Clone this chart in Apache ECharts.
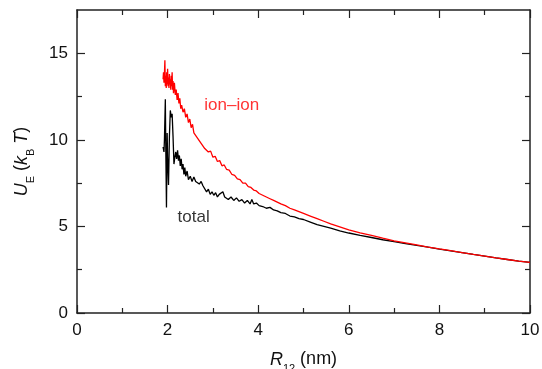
<!DOCTYPE html>
<html><head><meta charset="utf-8">
<script src="https://cdn.jsdelivr.net/npm/echarts@6/dist/echarts.min.js"></script>
<style>html,body{margin:0;padding:0;background:#fff}#c{width:542px;height:369px}</style>
</head><body><div id="c"></div>
<script>
// ion–ion interaction energy (red)
const ionX = [1.90,1.91,1.92,1.93,1.94,1.95,1.96,1.97,1.98,1.99,2.00,2.01,2.02,2.03,2.04,2.05,2.06,2.07,2.08,2.09,2.10,2.11,2.12,2.13,2.15,2.17,2.19,2.21,2.23,2.25,2.27,2.29,2.31,2.34,2.37,2.40,2.43,2.46,2.49,2.52,2.55,2.58,2.62,2.66,2.70,2.74,2.78,2.82,2.86,2.90,2.95,3.00,3.05,3.10,3.15,3.20,3.25,3.30,3.36,3.42,3.48,3.54,3.60,3.66,3.72,3.78,3.84,3.90,3.96,4.02,4.10,4.18,4.26,4.34,4.42,4.50,4.60,4.70,4.80,4.90,5.00,5.15,5.30,5.45,5.60,5.80,6.00,6.25,6.50,6.75,7.00,7.25,7.50,7.75,8.00,8.25,8.50,8.75,9.00,9.25,9.50,9.75,10.00];
const ionY = [13.5,13.9,13.3,13.8,14.6,13.1,13.7,13.0,13.9,13.2,14.1,13.1,13.6,13.0,13.8,13.2,13.5,12.9,13.7,13.1,13.9,12.9,13.4,12.7,13.3,12.6,12.9,12.3,12.7,12.1,12.4,11.8,12.0,11.6,11.8,11.3,11.5,11.0,11.2,10.7,10.9,10.4,10.5,10.1,10.2,9.8,9.9,9.5,9.6,9.3,9.35,9.0,9.05,8.75,8.8,8.5,8.55,8.3,8.25,8.0,7.95,7.75,7.7,7.5,7.5,7.3,7.25,7.1,7.05,6.9,6.8,6.7,6.6,6.5,6.4,6.3,6.2,6.05,5.95,5.85,5.75,5.6,5.45,5.3,5.15,4.98,4.8,4.63,4.48,4.32,4.17,4.05,3.93,3.81,3.7,3.6,3.49,3.38,3.28,3.18,3.09,3.0,2.92];
// total interaction energy (black)
const totX = [1.90,1.92,1.93,1.95,1.96,1.975,1.99,2.00,2.02,2.04,2.06,2.08,2.10,2.12,2.14,2.16,2.18,2.20,2.22,2.24,2.26,2.28,2.30,2.32,2.34,2.36,2.38,2.40,2.43,2.46,2.50,2.54,2.58,2.62,2.66,2.70,2.74,2.78,2.82,2.86,2.90,2.94,2.98,3.02,3.06,3.10,3.14,3.18,3.22,3.26,3.30,3.34,3.40,3.46,3.52,3.58,3.64,3.70,3.76,3.82,3.86,3.90,3.96,4.02,4.10,4.18,4.26,4.34,4.42,4.50,4.60,4.70,4.80,4.90,5.00,5.15,5.30,5.45,5.60,5.80,6.00,6.25,6.50,6.75,7.00,7.25,7.50,7.75,8.00,8.25,8.50,8.75,9.00,9.25,9.50,9.75,10.00];
const totY = [9.6,9.3,10.0,12.35,9.5,6.1,10.4,9.0,7.4,10.2,11.7,11.3,11.5,10.2,8.6,9.0,9.3,8.9,9.4,8.8,9.1,8.5,8.9,8.3,8.6,8.0,8.4,7.9,8.2,7.7,7.9,7.6,7.85,7.6,7.7,7.45,7.6,7.35,7.4,7.0,7.15,6.85,7.0,6.8,6.95,6.7,6.85,6.75,7.0,6.7,6.8,6.55,6.7,6.5,6.65,6.45,6.55,6.35,6.5,6.3,6.55,6.3,6.35,6.2,6.15,6.05,6.1,5.95,5.9,5.8,5.75,5.6,5.55,5.45,5.4,5.25,5.1,5.0,4.9,4.75,4.62,4.48,4.36,4.23,4.12,4.01,3.9,3.8,3.69,3.59,3.49,3.38,3.28,3.18,3.09,3.0,2.92];
// axis ticks
const yMajor = [0,5,10,15];
const yMinor = [2.5,7.5,12.5];
// annotations
const annText = ['ion\u2013ion','total'];
const annX = [2.81,2.22];
const annY = [12.0,5.54];
const annColor = ['#ff0000','#000000'];

const FONT = '"Liberation Sans", Arial, Helvetica, sans-serif';
const AX = '#222';
const TXT = '#111';
const chart = echarts.init(document.getElementById('c'), null, {renderer:'canvas'});
const pairs = (xs, ys) => xs.map((x,i)=>[x, ys[i]]);
const rich = {
  i:{fontSize:18, fontStyle:'italic', fontFamily:FONT, color:TXT},
  sub:{fontSize:11, fontFamily:FONT, color:TXT, padding:[18,0,0,0]},
  n:{fontSize:18, fontFamily:FONT, color:TXT}
};
function lineAx(show){ return {show:show, onZero:false, lineStyle:{color:AX, width:1.5}}; }
function xAx(pos, labels){
  return {type:'value', min:0, max:10, interval:2, position:pos, offset:0,
    axisLine:lineAx(true), splitLine:{show:false},
    axisTick:{show:true, inside:true, length:8, lineStyle:{color:AX, width:1.2}},
    minorTick:{show:true, splitNumber:2, length:5, lineStyle:{color:AX, width:1.2}},
    axisLabel:{show:labels, fontSize:17, color:TXT, fontFamily:FONT, margin:9},
    name: labels ? '{i|R}{sub|12}{n| (nm)}' : '',
    nameLocation:'middle', nameGap:32,
    nameTextStyle:{fontSize:18, color:TXT, fontFamily:FONT, rich:rich}
  };
}
function yAx(pos, ticks, len, labels, line){
  return {type:'value', min:0, max:17.5, position:pos, offset:0,
    axisLine:lineAx(line),
    splitLine:{show:false},
    axisTick:{show:true, inside:true, length:len, customValues:ticks, lineStyle:{color:AX, width:1.2}},
    axisLabel:{show:labels, customValues:yMajor, fontSize:17, color:TXT, fontFamily:FONT, margin:9},
    name: labels ? '{i|U}{sub|E}{n| (}{i|k}{sub|B}{n| }{i|T}{n|)}' : '',
    nameLocation:'middle', nameGap:41,
    nameTextStyle:{fontSize:18, color:TXT, fontFamily:FONT, rich:rich}
  };
}
chart.setOption({
  animation:false,
  backgroundColor:'#fff',
  grid:{left:77, right:12, top:10, bottom:56, containLabel:false, outerBoundsMode:'none'},
  xAxis:[xAx('bottom', true), xAx('top', false)],
  yAxis:[yAx('left', yMajor, 8, true, true), yAx('left', yMinor, 5, false, false),
         yAx('right', yMajor, 8, false, true), yAx('right', yMinor, 5, false, false)],
  series:[
    {type:'line', name:'total', data:pairs(totX, totY), showSymbol:false, symbol:'none',
     lineStyle:{color:'#000', width:1.3}, itemStyle:{color:'#000'}, z:2},
    {type:'line', name:'ion-ion', data:pairs(ionX, ionY), showSymbol:false, symbol:'none',
     lineStyle:{color:'#ff0000', width:1.3}, itemStyle:{color:'#ff0000'}, z:3},
    {type:'scatter', symbolSize:0, silent:true, z:5,
     data: annText.map((t,i)=>({value:[annX[i], annY[i]],
       label:{show:true, formatter:t, position:'right', distance:0,
              fontSize:17, fontFamily:FONT, color:annColor[i]}}))}
  ]
});
</script></body></html>
